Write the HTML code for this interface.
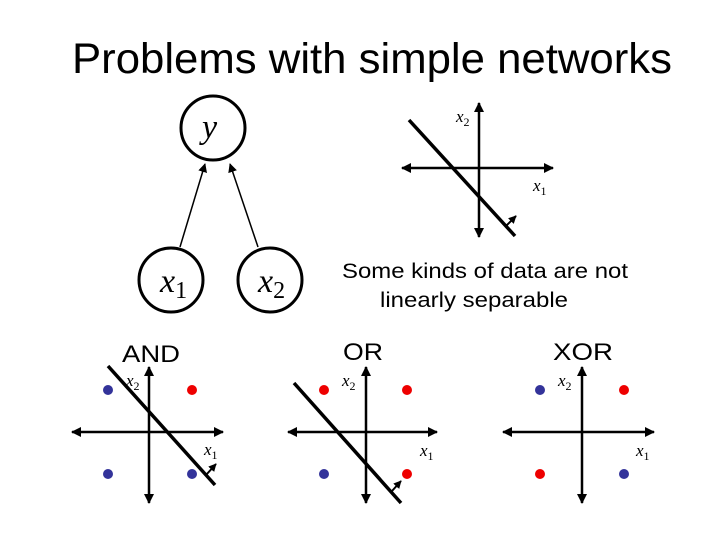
<!DOCTYPE html>
<html><head><style>
body{margin:0;background:#fff}
svg{display:block}
.s{font-family:"Liberation Sans",sans-serif}
.m{font-family:"Liberation Serif",serif;font-style:italic}
</style></head><body>
<svg width="720" height="540" viewBox="0 0 720 540" xmlns="http://www.w3.org/2000/svg">
<defs>
<marker id="a" viewBox="0 0 10 10" refX="9" refY="5" markerWidth="4" markerHeight="4" orient="auto-start-reverse"><path d="M0,0L10,5L0,10z" fill="#000"/></marker>
<marker id="b" viewBox="0 0 10 10" refX="9" refY="5" markerWidth="6" markerHeight="6" orient="auto"><path d="M0,0L10,5L0,10z" fill="#000"/></marker>
</defs>
<text x="72" y="73" class="s" font-size="43" textLength="600" lengthAdjust="spacingAndGlyphs">Problems with simple networks</text>
<g fill="none" stroke="#000" stroke-width="3">
<circle cx="213" cy="128" r="32"/><circle cx="171" cy="280" r="32"/><circle cx="270" cy="280" r="32"/>
</g>
<g stroke="#000" stroke-width="1.5">
<line x1="180" y1="247" x2="205" y2="164" marker-end="url(#b)"/>
<line x1="258" y1="247" x2="230" y2="164" marker-end="url(#b)"/>
</g>
<text x="202" y="138" class="m" font-size="34">y</text>
<text x="160" y="292" class="m" font-size="34">x<tspan font-size="24" dy="6" font-style="normal">1</tspan></text>
<text x="258" y="292" class="m" font-size="34">x<tspan font-size="24" dy="6" font-style="normal">2</tspan></text>
<text x="342" y="278" class="s" font-size="21" textLength="286" lengthAdjust="spacingAndGlyphs">Some kinds of data are not</text>
<text x="380" y="307" class="s" font-size="21" textLength="188" lengthAdjust="spacingAndGlyphs">linearly separable</text>
<g stroke="#000" stroke-width="2.5">
<line x1="479" y1="103" x2="479" y2="237" marker-start="url(#a)" marker-end="url(#a)"/>
<line x1="402" y1="168" x2="553" y2="168" marker-start="url(#a)" marker-end="url(#a)"/>
<line x1="409" y1="120" x2="515" y2="236" stroke-width="3.5"/>
<line x1="505" y1="227" x2="516" y2="216" stroke-width="2" marker-end="url(#a)"/>
</g>
<text x="456" y="122" class="m" font-size="17">x<tspan font-size="12" dy="4" font-style="normal">2</tspan></text>
<text x="533" y="191" class="m" font-size="17">x<tspan font-size="12" dy="4" font-style="normal">1</tspan></text>
<text x="122" y="362" class="s" font-size="24" textLength="58" lengthAdjust="spacingAndGlyphs">AND</text>
<g stroke="#000" stroke-width="2.5">
<line x1="149" y1="367" x2="149" y2="503" marker-start="url(#a)" marker-end="url(#a)"/>
<line x1="72" y1="432" x2="223" y2="432" marker-start="url(#a)" marker-end="url(#a)"/>
<line x1="108" y1="366" x2="215" y2="485" stroke-width="3.5"/>
<line x1="206" y1="475" x2="216" y2="464" stroke-width="2" marker-end="url(#a)"/>
</g>
<circle cx="108" cy="390" r="5" fill="#33339a"/><circle cx="192" cy="390" r="5" fill="#e00"/>
<circle cx="108" cy="474" r="5" fill="#33339a"/><circle cx="192" cy="474" r="5" fill="#33339a"/>
<text x="126" y="386" class="m" font-size="17">x<tspan font-size="12" dy="4" font-style="normal">2</tspan></text>
<text x="204" y="455" class="m" font-size="17">x<tspan font-size="12" dy="4" font-style="normal">1</tspan></text>
<text x="343" y="360" class="s" font-size="24" textLength="40" lengthAdjust="spacingAndGlyphs">OR</text>
<g stroke="#000" stroke-width="2.5">
<line x1="366" y1="367" x2="366" y2="503" marker-start="url(#a)" marker-end="url(#a)"/>
<line x1="288" y1="432" x2="437" y2="432" marker-start="url(#a)" marker-end="url(#a)"/>
<line x1="294" y1="383" x2="401" y2="503" stroke-width="3.5"/>
<line x1="392" y1="491" x2="401" y2="481" stroke-width="2" marker-end="url(#a)"/>
</g>
<circle cx="324" cy="390" r="5" fill="#e00"/><circle cx="407" cy="390" r="5" fill="#e00"/>
<circle cx="324" cy="474" r="5" fill="#33339a"/><circle cx="407" cy="474" r="5" fill="#e00"/>
<text x="342" y="386" class="m" font-size="17">x<tspan font-size="12" dy="4" font-style="normal">2</tspan></text>
<text x="420" y="456" class="m" font-size="17">x<tspan font-size="12" dy="4" font-style="normal">1</tspan></text>
<text x="553" y="360" class="s" font-size="24" textLength="60" lengthAdjust="spacingAndGlyphs">XOR</text>
<g stroke="#000" stroke-width="2.5">
<line x1="582" y1="367" x2="582" y2="503" marker-start="url(#a)" marker-end="url(#a)"/>
<line x1="503" y1="432" x2="654" y2="432" marker-start="url(#a)" marker-end="url(#a)"/>
</g>
<circle cx="540" cy="390" r="5" fill="#33339a"/><circle cx="624" cy="390" r="5" fill="#e00"/>
<circle cx="540" cy="474" r="5" fill="#e00"/><circle cx="624" cy="474" r="5" fill="#33339a"/>
<text x="558" y="386" class="m" font-size="17">x<tspan font-size="12" dy="4" font-style="normal">2</tspan></text>
<text x="636" y="456" class="m" font-size="17">x<tspan font-size="12" dy="4" font-style="normal">1</tspan></text>
</svg>
</body></html>
